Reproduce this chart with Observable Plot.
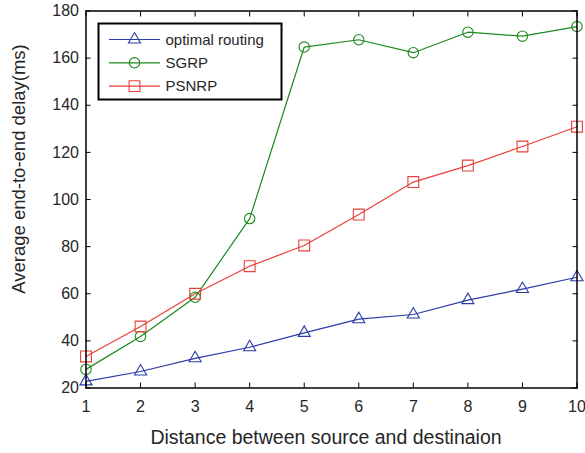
<!DOCTYPE html>
<html><head><meta charset="utf-8">
<script src="https://cdn.jsdelivr.net/npm/d3@7"></script>
<script src="https://cdn.jsdelivr.net/npm/@observablehq/plot@0.6"></script>
<style>body{margin:0;background:#fff}</style>
</head><body><div id="chart"></div>
<script>
const distance = [1, 2, 3, 4, 5, 6, 7, 8, 9, 10];
const optimalRouting = [22.8, 27, 32.6, 37.3, 43.4, 49.2, 51.2, 57.3, 62, 67];
const sgrp = [27.9, 41.9, 58.5, 91.9, 164.7, 167.8, 162.3, 171, 169.3, 173.4];
const psnrp = [33.4, 46.1, 60, 71.7, 80.5, 93.6, 107.4, 114.4, 122.5, 130.9];
const seriesNames = ["optimal routing", "SGRP", "PSNRP"];
const seriesValues = [optimalRouting, sgrp, psnrp];
const seriesColors = ["#2b3ca8", "#1b8a1b", "#e8403a"];
const seriesSymbols = ["triangle", "circle", "square"];
const symbolRadius = [4.5, 5.2, 6.1];
const xTicks = distance;
const yTicks = [20, 40, 60, 80, 100, 120, 140, 160, 180];
const xLabel = "Distance between source and destinaion";
const yLabel = "Average end-to-end delay(ms)";

const seriesRows = seriesNames.map((name, i) => distance.map((d, j) => ({name, x: d, y: seriesValues[i][j]})));
const rows = seriesRows.flat();

const W = 585, H = 453, mL = 85.5, mR = 8.5, mT = 10.5, mB = 65.5;
const font = "'Liberation Sans', Arial, Helvetica, sans-serif";

const plot = Plot.plot({
  width: W, height: H,
  marginLeft: mL, marginRight: mR, marginTop: mT, marginBottom: mB,
  style: {fontFamily: font, fontSize: "16px", color: "#262626", background: "#fff"},
  x: {domain: [1, 10]},
  y: {domain: [20, 180]},
  color: {domain: seriesNames, range: seriesColors},
  symbol: {domain: seriesNames, range: seriesSymbols},
  marks: [
    Plot.axisX(xTicks, {anchor: "bottom", tickSize: -5, tickFormat: () => "", label: null, stroke: "#000"}),
    Plot.axisX(xTicks, {anchor: "top", tickSize: -5, tickFormat: () => "", label: null, stroke: "#000"}),
    Plot.axisY(yTicks, {anchor: "left", tickSize: -5, tickFormat: () => "", label: null, stroke: "#000"}),
    Plot.axisY(yTicks, {anchor: "right", tickSize: -5, tickFormat: () => "", label: null, stroke: "#000"}),
    Plot.axisX(xTicks, {anchor: "bottom", tickSize: 0, tickPadding: 13, label: null, fill: "#262626"}),
    Plot.axisY(yTicks, {anchor: "left", tickSize: 0, tickPadding: 7, label: null, fill: "#262626"}),
    Plot.line(rows, {x: "x", y: "y", z: "name", stroke: "name", strokeWidth: 1.2}),
    ...seriesRows.map((data, i) => Plot.dot(data, {x: "x", y: "y", stroke: "name", symbol: "name", r: symbolRadius[i], fill: "none", strokeWidth: 1.1})),
    Plot.frame({stroke: "#000", strokeWidth: 1.5})
  ]
});
document.getElementById("chart").appendChild(plot);

const svg = d3.select(plot);
svg.append("text")
  .attr("x", 326).attr("y", 444)
  .attr("text-anchor", "middle")
  .attr("font-family", font).attr("font-size", 19.5).attr("fill", "#262626")
  .text(xLabel);
svg.append("text")
  .attr("transform", `translate(25,169) rotate(-90)`)
  .attr("text-anchor", "middle")
  .attr("font-family", font).attr("font-size", 18.5).attr("fill", "#262626")
  .text(yLabel);

// legend
const lg = svg.append("g").attr("transform", "translate(98.5,23.5)");
lg.append("rect").attr("width", 183).attr("height", 76)
  .attr("fill", "#fff").attr("stroke", "#000").attr("stroke-width", 2);
const symTypes = {triangle: d3.symbolTriangle, circle: d3.symbolCircle, square: d3.symbolSquare};
seriesNames.forEach((name, i) => {
  const cy = 16 + i * 23.3;
  lg.append("line").attr("x1", 10.5).attr("x2", 61.5).attr("y1", cy).attr("y2", cy)
    .attr("stroke", seriesColors[i]).attr("stroke-width", 1.2);
  lg.append("path").attr("d", d3.symbol(symTypes[seriesSymbols[i]], Math.PI * symbolRadius[i] * symbolRadius[i])())
    .attr("transform", `translate(36,${cy})`)
    .attr("fill", "none").attr("stroke", seriesColors[i]).attr("stroke-width", 1.1);
  lg.append("text").attr("x", 67).attr("y", cy).attr("dy", "0.35em")
    .attr("text-anchor", "start")
    .attr("font-family", font).attr("font-size", 15).attr("fill", "#262626")
    .text(name);
});
</script>
</body></html>
